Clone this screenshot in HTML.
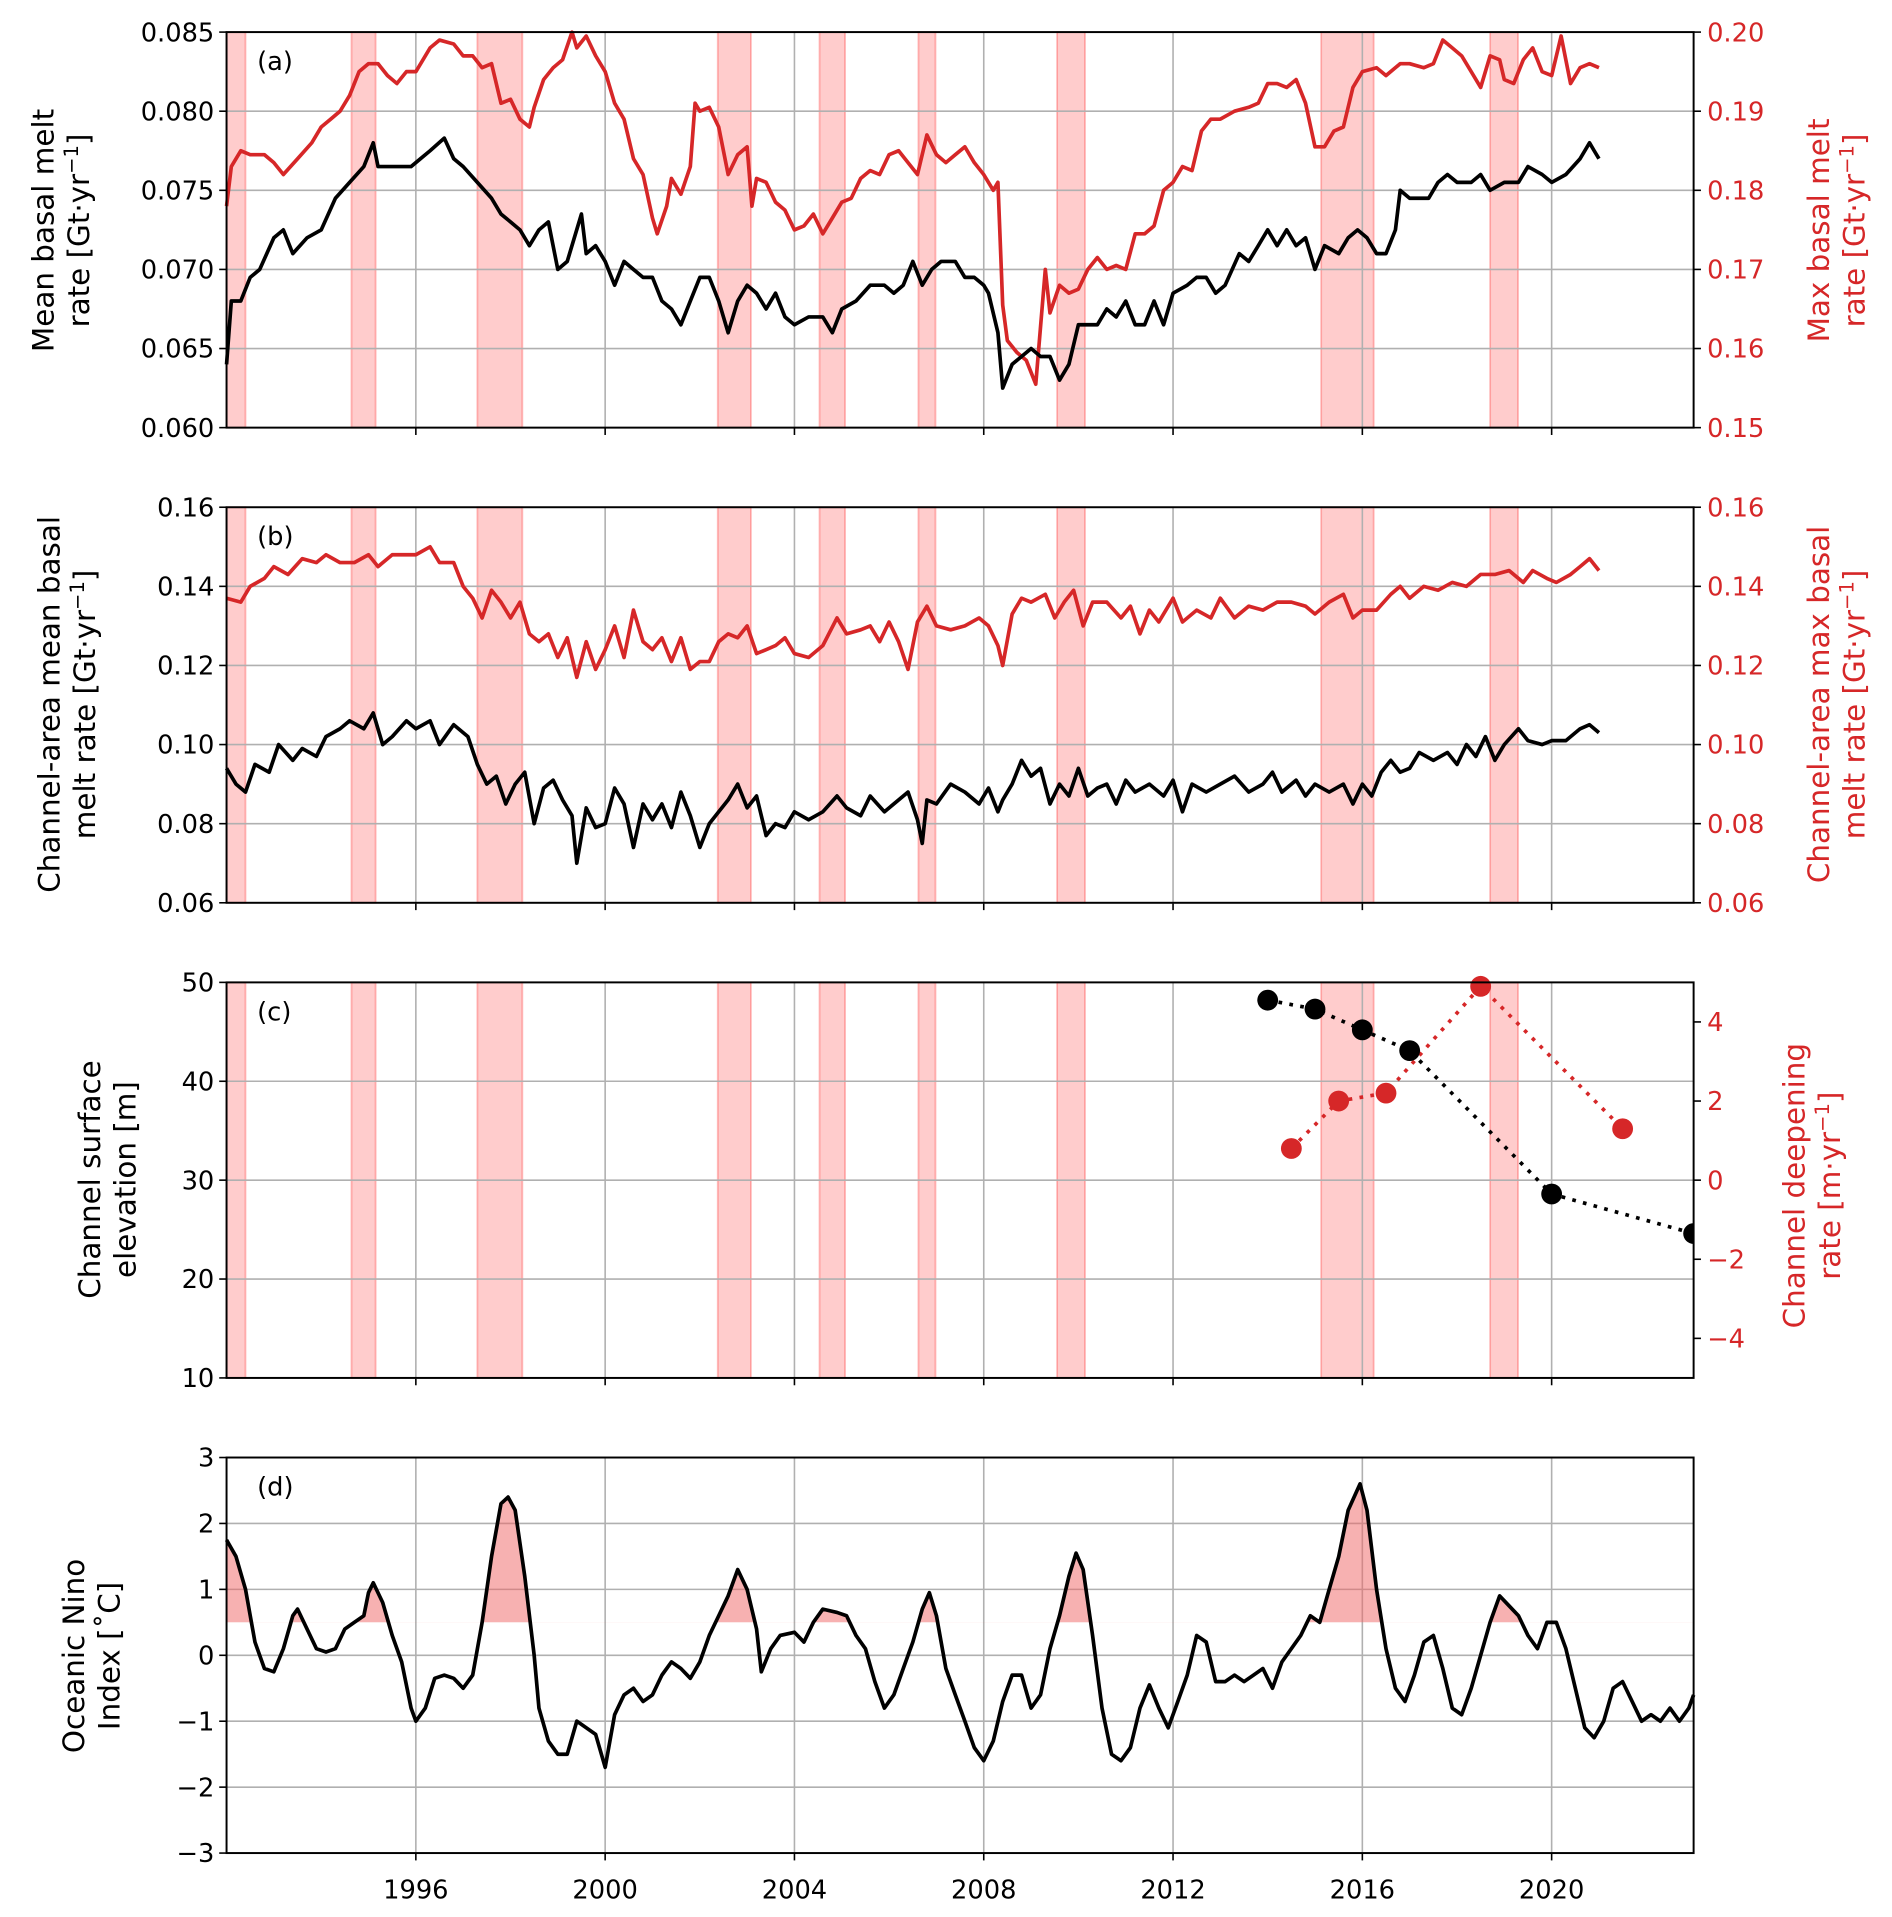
<!DOCTYPE html>
<html><head><meta charset="utf-8"><style>
html,body{margin:0;padding:0;background:#fff;}
svg{display:block;font-family:"DejaVu Sans","Liberation Sans",sans-serif;}
</style></head><body>
<svg id="fig" xmlns="http://www.w3.org/2000/svg" width="1892" height="1917" viewBox="0 0 1545 1565"></svg>
<script>
// ---- data ----
const ensoStart=[1992.0,1994.64,1997.3,2002.38,2004.53,2006.62,2009.55,2015.13,2018.7];
const ensoEnd=[1992.4,1995.15,1998.25,2003.08,2005.07,2006.98,2010.14,2016.24,2019.29];

const aMeanYears=[1992.0,1992.1,1992.3,1992.5,1992.7,1993.0,1993.2,1993.4,1993.7,1994.0,1994.3,1994.6,1994.9,1995.1,1995.2,1995.4,1995.6,1995.9,1996.1,1996.3,1996.6,1996.8,1997.0,1997.3,1997.6,1997.8,1998.0,1998.2,1998.4,1998.6,1998.8,1999.0,1999.2,1999.5,1999.6,1999.8,2000.0,2000.2,2000.4,2000.6,2000.8,2001.0,2001.2,2001.4,2001.6,2001.8,2002.0,2002.2,2002.4,2002.6,2002.8,2003.0,2003.2,2003.4,2003.6,2003.8,2004.0,2004.3,2004.6,2004.8,2005.0,2005.3,2005.6,2005.9,2006.1,2006.3,2006.5,2006.7,2006.9,2007.1,2007.4,2007.6,2007.8,2008.0,2008.1,2008.3,2008.4,2008.6,2008.8,2009.0,2009.2,2009.4,2009.6,2009.8,2010.0,2010.2,2010.4,2010.6,2010.8,2011.0,2011.2,2011.4,2011.6,2011.8,2012.0,2012.3,2012.5,2012.7,2012.9,2013.1,2013.4,2013.6,2013.8,2014.0,2014.2,2014.4,2014.6,2014.8,2015.0,2015.2,2015.5,2015.7,2015.9,2016.1,2016.3,2016.5,2016.7,2016.8,2017.0,2017.2,2017.4,2017.6,2017.8,2018.0,2018.3,2018.5,2018.7,2019.0,2019.3,2019.5,2019.8,2020.0,2020.3,2020.6,2020.8,2020.9,2021.0];
const aMeanVals=[0.064,0.068,0.068,0.0695,0.070,0.072,0.0725,0.071,0.072,0.0725,0.0745,0.0755,0.0765,0.078,0.0765,0.0765,0.0765,0.0765,0.077,0.0775,0.0783,0.077,0.0765,0.0755,0.0745,0.0735,0.073,0.0725,0.0715,0.0725,0.073,0.070,0.0705,0.0735,0.071,0.0715,0.0705,0.069,0.0705,0.070,0.0695,0.0695,0.068,0.0675,0.0665,0.068,0.0695,0.0695,0.068,0.066,0.068,0.069,0.0685,0.0675,0.0685,0.067,0.0665,0.067,0.067,0.066,0.0675,0.068,0.069,0.069,0.0685,0.069,0.0705,0.069,0.070,0.0705,0.0705,0.0695,0.0695,0.069,0.0685,0.066,0.0625,0.064,0.0645,0.065,0.0645,0.0645,0.063,0.064,0.0665,0.0665,0.0665,0.0675,0.067,0.068,0.0665,0.0665,0.068,0.0665,0.0685,0.069,0.0695,0.0695,0.0685,0.069,0.071,0.0705,0.0715,0.0725,0.0715,0.0725,0.0715,0.072,0.070,0.0715,0.071,0.072,0.0725,0.072,0.071,0.071,0.0725,0.075,0.0745,0.0745,0.0745,0.0755,0.076,0.0755,0.0755,0.076,0.075,0.0755,0.0755,0.0765,0.076,0.0755,0.076,0.077,0.078,0.0775,0.077];

const aMaxYears=[1992.0,1992.1,1992.3,1992.5,1992.8,1993.0,1993.2,1993.5,1993.8,1994.0,1994.2,1994.4,1994.6,1994.8,1995.0,1995.2,1995.4,1995.6,1995.8,1996.0,1996.3,1996.5,1996.8,1997.0,1997.2,1997.4,1997.6,1997.8,1998.0,1998.2,1998.4,1998.5,1998.7,1998.9,1999.1,1999.3,1999.4,1999.6,1999.8,2000.0,2000.2,2000.4,2000.6,2000.8,2001.0,2001.1,2001.3,2001.4,2001.6,2001.8,2001.9,2002.0,2002.2,2002.4,2002.6,2002.8,2003.0,2003.1,2003.2,2003.4,2003.6,2003.8,2004.0,2004.2,2004.4,2004.6,2004.8,2005.0,2005.2,2005.4,2005.6,2005.8,2006.0,2006.2,2006.4,2006.6,2006.8,2007.0,2007.2,2007.4,2007.6,2007.8,2008.0,2008.2,2008.3,2008.4,2008.5,2008.7,2008.9,2009.1,2009.3,2009.4,2009.6,2009.8,2010.0,2010.2,2010.4,2010.6,2010.8,2011.0,2011.2,2011.4,2011.6,2011.8,2012.0,2012.2,2012.4,2012.6,2012.8,2013.0,2013.3,2013.6,2013.8,2014.0,2014.2,2014.4,2014.6,2014.8,2015.0,2015.2,2015.4,2015.6,2015.8,2016.0,2016.3,2016.5,2016.8,2017.0,2017.3,2017.5,2017.7,2017.9,2018.1,2018.3,2018.5,2018.7,2018.9,2019.0,2019.2,2019.4,2019.6,2019.8,2020.0,2020.2,2020.4,2020.6,2020.8,2021.0];
const aMaxVals=[0.178,0.183,0.185,0.1845,0.1845,0.1835,0.182,0.184,0.186,0.188,0.189,0.190,0.192,0.195,0.196,0.196,0.1945,0.1935,0.195,0.195,0.198,0.199,0.1985,0.197,0.197,0.1955,0.196,0.191,0.1915,0.189,0.188,0.1905,0.194,0.1955,0.1965,0.200,0.198,0.1995,0.197,0.195,0.191,0.189,0.184,0.182,0.1765,0.1745,0.178,0.1815,0.1795,0.183,0.191,0.190,0.1905,0.188,0.182,0.1845,0.1855,0.178,0.1815,0.181,0.1785,0.1775,0.175,0.1755,0.177,0.1745,0.1765,0.1785,0.179,0.1815,0.1825,0.182,0.1845,0.185,0.1835,0.182,0.187,0.1845,0.1835,0.1845,0.1855,0.1835,0.182,0.180,0.181,0.1655,0.161,0.1595,0.1585,0.1555,0.170,0.1645,0.168,0.167,0.1675,0.170,0.1715,0.170,0.1705,0.170,0.1745,0.1745,0.1755,0.180,0.181,0.183,0.1825,0.1875,0.189,0.189,0.190,0.1905,0.191,0.1935,0.1935,0.193,0.194,0.191,0.1855,0.1855,0.1875,0.188,0.193,0.195,0.1955,0.1945,0.196,0.196,0.1955,0.196,0.199,0.198,0.197,0.195,0.193,0.197,0.1965,0.194,0.1935,0.1965,0.198,0.195,0.1945,0.1995,0.1935,0.1955,0.196,0.1955];

const bMeanYears=[1992.0,1992.2,1992.4,1992.6,1992.9,1993.1,1993.4,1993.6,1993.9,1994.1,1994.4,1994.6,1994.9,1995.1,1995.3,1995.5,1995.8,1996.0,1996.3,1996.5,1996.8,1997.1,1997.3,1997.5,1997.7,1997.9,1998.1,1998.3,1998.5,1998.7,1998.9,1999.1,1999.3,1999.4,1999.6,1999.8,2000.0,2000.2,2000.4,2000.6,2000.8,2001.0,2001.2,2001.4,2001.6,2001.8,2002.0,2002.2,2002.4,2002.6,2002.8,2003.0,2003.2,2003.4,2003.6,2003.8,2004.0,2004.3,2004.6,2004.9,2005.1,2005.4,2005.6,2005.9,2006.2,2006.4,2006.6,2006.7,2006.8,2007.0,2007.3,2007.6,2007.9,2008.1,2008.3,2008.4,2008.6,2008.8,2009.0,2009.2,2009.4,2009.6,2009.8,2010.0,2010.2,2010.4,2010.6,2010.8,2011.0,2011.2,2011.5,2011.8,2012.0,2012.2,2012.4,2012.7,2013.0,2013.3,2013.6,2013.9,2014.1,2014.3,2014.6,2014.8,2015.0,2015.3,2015.6,2015.8,2016.0,2016.2,2016.4,2016.6,2016.8,2017.0,2017.2,2017.5,2017.8,2018.0,2018.2,2018.4,2018.6,2018.8,2019.0,2019.3,2019.5,2019.8,2020.0,2020.3,2020.6,2020.8,2021.0];
const bMeanVals=[0.094,0.090,0.088,0.095,0.093,0.100,0.096,0.099,0.097,0.102,0.104,0.106,0.104,0.108,0.100,0.102,0.106,0.104,0.106,0.100,0.105,0.102,0.095,0.090,0.092,0.085,0.090,0.093,0.080,0.089,0.091,0.086,0.082,0.070,0.084,0.079,0.080,0.089,0.085,0.074,0.085,0.081,0.085,0.079,0.088,0.082,0.074,0.080,0.083,0.086,0.090,0.084,0.087,0.077,0.080,0.079,0.083,0.081,0.083,0.087,0.084,0.082,0.087,0.083,0.086,0.088,0.081,0.075,0.086,0.085,0.090,0.088,0.085,0.089,0.083,0.086,0.090,0.096,0.092,0.094,0.085,0.090,0.087,0.094,0.087,0.089,0.090,0.085,0.091,0.088,0.090,0.087,0.091,0.083,0.090,0.088,0.090,0.092,0.088,0.090,0.093,0.088,0.091,0.087,0.090,0.088,0.090,0.085,0.090,0.087,0.093,0.096,0.093,0.094,0.098,0.096,0.098,0.095,0.100,0.097,0.102,0.096,0.100,0.104,0.101,0.100,0.101,0.101,0.104,0.105,0.103];

const bMaxYears=[1992.0,1992.3,1992.5,1992.8,1993.0,1993.3,1993.6,1993.9,1994.1,1994.4,1994.7,1995.0,1995.2,1995.5,1995.8,1996.0,1996.3,1996.5,1996.8,1997.0,1997.2,1997.4,1997.6,1997.8,1998.0,1998.2,1998.4,1998.6,1998.8,1999.0,1999.2,1999.4,1999.6,1999.8,2000.0,2000.2,2000.4,2000.6,2000.8,2001.0,2001.2,2001.4,2001.6,2001.8,2002.0,2002.2,2002.4,2002.6,2002.8,2003.0,2003.2,2003.4,2003.6,2003.8,2004.0,2004.3,2004.6,2004.9,2005.1,2005.4,2005.6,2005.8,2006.0,2006.2,2006.4,2006.6,2006.8,2007.0,2007.3,2007.6,2007.9,2008.1,2008.3,2008.4,2008.6,2008.8,2009.0,2009.3,2009.5,2009.7,2009.9,2010.1,2010.3,2010.6,2010.9,2011.1,2011.3,2011.5,2011.7,2012.0,2012.2,2012.5,2012.8,2013.0,2013.3,2013.6,2013.9,2014.2,2014.5,2014.8,2015.0,2015.3,2015.6,2015.8,2016.0,2016.3,2016.6,2016.8,2017.0,2017.3,2017.6,2017.9,2018.2,2018.5,2018.8,2019.1,2019.4,2019.6,2019.9,2020.1,2020.4,2020.6,2020.8,2021.0];
const bMaxVals=[0.137,0.136,0.140,0.142,0.145,0.143,0.147,0.146,0.148,0.146,0.146,0.148,0.145,0.148,0.148,0.148,0.150,0.146,0.146,0.140,0.137,0.132,0.139,0.136,0.132,0.136,0.128,0.126,0.128,0.122,0.127,0.117,0.126,0.119,0.124,0.130,0.122,0.134,0.126,0.124,0.127,0.121,0.127,0.119,0.121,0.121,0.126,0.128,0.127,0.130,0.123,0.124,0.125,0.127,0.123,0.122,0.125,0.132,0.128,0.129,0.130,0.126,0.131,0.126,0.119,0.131,0.135,0.130,0.129,0.130,0.132,0.130,0.125,0.120,0.133,0.137,0.136,0.138,0.132,0.136,0.139,0.130,0.136,0.136,0.132,0.135,0.128,0.134,0.131,0.137,0.131,0.134,0.132,0.137,0.132,0.135,0.134,0.136,0.136,0.135,0.133,0.136,0.138,0.132,0.134,0.134,0.138,0.140,0.137,0.140,0.139,0.141,0.140,0.143,0.143,0.144,0.141,0.144,0.142,0.141,0.143,0.145,0.147,0.144];

const cElevYears=[2014.0,2015.0,2016.0,2017.0,2020.0,2023.0];
const cElevVals=[48.2,47.3,45.2,43.1,28.6,24.6];
const cRateYears=[2014.5,2015.5,2016.5,2018.5,2021.5];
const cRateVals=[0.8,2.0,2.2,4.9,1.3];

const oniYears=[1992.0,1992.2,1992.4,1992.6,1992.8,1993.0,1993.2,1993.4,1993.5,1993.7,1993.9,1994.1,1994.3,1994.5,1994.7,1994.9,1995.0,1995.1,1995.3,1995.5,1995.7,1995.9,1996.0,1996.2,1996.4,1996.6,1996.8,1997.0,1997.2,1997.4,1997.6,1997.8,1997.95,1998.1,1998.3,1998.5,1998.6,1998.8,1999.0,1999.2,1999.4,1999.6,1999.8,2000.0,2000.2,2000.4,2000.6,2000.8,2001.0,2001.2,2001.4,2001.6,2001.8,2002.0,2002.2,2002.4,2002.6,2002.8,2003.0,2003.2,2003.3,2003.5,2003.7,2004.0,2004.2,2004.4,2004.6,2004.9,2005.1,2005.3,2005.5,2005.7,2005.9,2006.1,2006.3,2006.5,2006.7,2006.85,2007.0,2007.2,2007.4,2007.6,2007.8,2008.0,2008.2,2008.4,2008.6,2008.8,2009.0,2009.2,2009.4,2009.6,2009.8,2009.95,2010.1,2010.3,2010.5,2010.7,2010.9,2011.1,2011.3,2011.5,2011.7,2011.9,2012.1,2012.3,2012.5,2012.7,2012.9,2013.1,2013.3,2013.5,2013.7,2013.9,2014.1,2014.3,2014.5,2014.7,2014.9,2015.1,2015.3,2015.5,2015.7,2015.95,2016.1,2016.3,2016.5,2016.7,2016.9,2017.1,2017.3,2017.5,2017.7,2017.9,2018.1,2018.3,2018.5,2018.7,2018.9,2019.1,2019.3,2019.5,2019.7,2019.9,2020.1,2020.3,2020.5,2020.7,2020.9,2021.1,2021.3,2021.5,2021.7,2021.9,2022.1,2022.3,2022.5,2022.7,2022.9,2023.0];
const oniVals=[1.75,1.5,1.0,0.2,-0.2,-0.25,0.1,0.6,0.7,0.4,0.1,0.05,0.1,0.4,0.5,0.6,0.95,1.1,0.8,0.3,-0.1,-0.8,-1.0,-0.8,-0.35,-0.3,-0.35,-0.5,-0.3,0.5,1.5,2.3,2.4,2.2,1.2,0.0,-0.8,-1.3,-1.5,-1.5,-1.0,-1.1,-1.2,-1.7,-0.9,-0.6,-0.5,-0.7,-0.6,-0.3,-0.1,-0.2,-0.35,-0.1,0.3,0.6,0.9,1.3,1.0,0.4,-0.25,0.1,0.3,0.35,0.2,0.5,0.7,0.65,0.6,0.3,0.1,-0.4,-0.8,-0.6,-0.2,0.2,0.7,0.95,0.6,-0.2,-0.6,-1.0,-1.4,-1.6,-1.3,-0.7,-0.3,-0.3,-0.8,-0.6,0.1,0.6,1.2,1.55,1.3,0.3,-0.8,-1.5,-1.6,-1.4,-0.8,-0.45,-0.8,-1.1,-0.7,-0.3,0.3,0.2,-0.4,-0.4,-0.3,-0.4,-0.3,-0.2,-0.5,-0.1,0.1,0.3,0.6,0.5,1.0,1.5,2.2,2.6,2.2,1.0,0.1,-0.5,-0.7,-0.3,0.2,0.3,-0.2,-0.8,-0.9,-0.5,0.0,0.5,0.9,0.75,0.6,0.3,0.1,0.5,0.5,0.1,-0.5,-1.1,-1.25,-1.0,-0.5,-0.4,-0.7,-1.0,-0.9,-1.0,-0.8,-1.0,-0.8,-0.6];

const aLeftTicks=[0.060,0.065,0.070,0.075,0.080,0.085];
const aRightTicks=[0.15,0.16,0.17,0.18,0.19,0.20];
const bTicks=[0.06,0.08,0.10,0.12,0.14,0.16];
const cLeftTicks=[10,20,30,40,50];
const cRightTicks=[-4,-2,0,2,4];
const dTicks=[-3,-2,-1,0,1,2,3];
const xTicks=[1996,2000,2004,2008,2012,2016,2020];

// ---- drawing ----
const NS='http://www.w3.org/2000/svg';
const svg=document.getElementById('fig');
const X0=185,X1=1383,Y0=1992,Y1=2023;
const RED='#d62728';
const LW=3;
function xs(y){return X0+(y-Y0)/(Y1-Y0)*(X1-X0);}
function mk(tag,attrs,parent){const e=document.createElementNS(NS,tag);for(const k in attrs)e.setAttribute(k,attrs[k]);(parent||svg).appendChild(e);return e;}
function lin(d0,d1,top,bot){return v=>bot-(v-d0)/(d1-d0)*(bot-top);}
function path(xsArr,ysArr,yf){return xsArr.map((t,i)=>(i?'L':'M')+xs(t).toFixed(1)+','+yf(ysArr[i]).toFixed(1)).join('');}
function fmt(v,d){return v.toFixed(d).replace('-','\u2212');}

const panels=[
 {id:'a',top:26,bot:349,l:[0.060,0.085],r:[0.15,0.20],lt:aLeftTicks,rt:aRightTicks,ld:3,rd:2,shade:true},
 {id:'b',top:414,bot:737,l:[0.06,0.16],r:[0.06,0.16],lt:bTicks,rt:bTicks,ld:2,rd:2,shade:true},
 {id:'c',top:802,bot:1125,l:[10,50],r:[-5,5],lt:cLeftTicks,rt:cRightTicks,ld:0,rd:0,shade:true},
 {id:'d',top:1190,bot:1513,l:[-3,3],r:null,lt:dTicks,rt:null,ld:0,rd:0,shade:false}
];

panels.forEach(p=>{
 const g=mk('g',{});
 
 
 const yl=lin(p.l[0],p.l[1],p.top,p.bot);
 const yr=p.r?lin(p.r[0],p.r[1],p.top,p.bot):null;
 if(p.shade){
  ensoStart.forEach((s,i)=>{
   const r=mk('rect',{x:xs(s),y:p.top,width:xs(ensoEnd[i])-xs(s),height:p.bot-p.top,fill:'rgba(255,0,0,0.2)',stroke:'rgba(255,0,0,0.25)','stroke-width':1.5},g);
   
   
  });
 }
 xTicks.forEach(t=>{mk('line',{x1:xs(t),x2:xs(t),y1:p.top,y2:p.bot,stroke:'#b0b0b0','stroke-width':1.3},g);
  mk('line',{x1:xs(t),x2:xs(t),y1:p.bot,y2:p.bot+6,stroke:'#000','stroke-width':1.3},g);});
 p.lt.forEach(t=>{mk('line',{x1:X0,x2:X1,y1:yl(t),y2:yl(t),stroke:'#b0b0b0','stroke-width':1.3},g);
  mk('line',{x1:X0-6,x2:X0,y1:yl(t),y2:yl(t),stroke:'#000','stroke-width':1.3},g);
  const tx=mk('text',{x:X0-10,y:yl(t)+7.5,'text-anchor':'end','font-size':21,fill:'#000'},g);tx.textContent=fmt(t,p.ld);
  });
 if(p.rt){p.rt.forEach(t=>{mk('line',{x1:X1,x2:X1+6,y1:yr(t),y2:yr(t),stroke:'#000','stroke-width':1.3},g);
  const tx=mk('text',{x:X1+11,y:yr(t)+7.5,'font-size':21,fill:RED},g);tx.textContent=fmt(t,p.rd);
  });}
 if(p.id==='a'){
  const r=mk('path',{d:path(aMaxYears,aMaxVals,yr),fill:'none',stroke:RED,'stroke-width':LW,'stroke-linejoin':'round'},g);
  
  const k=mk('path',{d:path(aMeanYears,aMeanVals,yl),fill:'none',stroke:'#000','stroke-width':LW,'stroke-linejoin':'round'},g);
  
 }
 if(p.id==='b'){
  const r=mk('path',{d:path(bMaxYears,bMaxVals,yr),fill:'none',stroke:RED,'stroke-width':LW,'stroke-linejoin':'round'},g);
  
  const k=mk('path',{d:path(bMeanYears,bMeanVals,yl),fill:'none',stroke:'#000','stroke-width':LW,'stroke-linejoin':'round'},g);
  
 }
 if(p.id==='c'){
  mk('clipPath',{id:'clipc'},g);
  const cp=document.getElementById('clipc');mk('rect',{x:X0,y:p.top-12,width:X1-X0,height:p.bot-p.top+24},cp);
  const gc=mk('g',{'clip-path':'url(#clipc)'},g);
  const l1=mk('path',{d:path(cElevYears,cElevVals,yl),fill:'none',stroke:'#000','stroke-width':3,'stroke-dasharray':'3,6'},gc);
  
  const l2=mk('path',{d:path(cRateYears,cRateVals,yr),fill:'none',stroke:RED,'stroke-width':3,'stroke-dasharray':'3,6'},gc);
  
  cElevYears.forEach((t,i)=>{const c=mk('circle',{cx:xs(t),cy:yl(cElevVals[i]),r:8.5,fill:'#000'},gc);
   });
  cRateYears.forEach((t,i)=>{const c=mk('circle',{cx:xs(t),cy:yr(cRateVals[i]),r:8.5,fill:RED},gc);
   });
 }
 if(p.id==='d'){
  mk('clipPath',{id:'clipd'},g);
  const cp=document.getElementById('clipd');mk('rect',{x:X0,y:p.top,width:X1-X0,height:yl(0.5)-p.top},cp);
  const area=path(oniYears,oniVals,yl)+'L'+xs(oniYears[oniYears.length-1])+','+yl(0.5)+'L'+xs(oniYears[0])+','+yl(0.5)+'Z';
  const f=mk('path',{d:area,fill:'rgba(240,100,100,0.5)',stroke:'none','clip-path':'url(#clipd)'},g);
  
  const k=mk('path',{d:path(oniYears,oniVals,yl),fill:'none',stroke:'#000','stroke-width':LW,'stroke-linejoin':'round'},g);
  
  xTicks.forEach(t=>{const tx=mk('text',{x:xs(t),y:p.bot+37,'text-anchor':'middle','font-size':21},g);tx.textContent=t;
   });
 }
 const fr=mk('rect',{x:X0,y:p.top,width:X1-X0,height:p.bot-p.top,fill:'none',stroke:'#000','stroke-width':1.6},g);
 
 const lb=mk('text',{x:210,y:p.top+31,'font-size':21},g);lb.textContent='('+p.id+')';
 
});

function vlabel(cx,cy,lines,color,name){
 const g=mk('g',{transform:'translate('+cx+','+cy+') rotate(-90)'});
 
 lines.forEach((ln,i)=>{const t=mk('text',{x:0,y:(i-(lines.length-1)/2)*29+8,'text-anchor':'middle','font-size':24,fill:color},g);t.innerHTML=ln;});
}
const sup='<tspan dy="-9" font-size="16">\u22121</tspan><tspan dy="9">]</tspan>';
vlabel(50,188,['Mean basal melt','rate [Gt\u00b7yr'+sup],'#000','y-axis-title-a');
vlabel(1500,188,['Max basal melt','rate [Gt\u00b7yr'+sup],RED,'right-axis-title-a');
vlabel(55,575,['Channel-area mean basal','melt rate [Gt\u00b7yr'+sup],'#000','y-axis-title-b');
vlabel(1500,575,['Channel-area max basal','melt rate [Gt\u00b7yr'+sup],RED,'right-axis-title-b');
vlabel(88,963,['Channel surface','elevation [m]'],'#000','y-axis-title-c');
vlabel(1480,968,['Channel deepening','rate [m\u00b7yr'+sup],RED,'right-axis-title-c');
vlabel(75,1352,['Oceanic Nino','Index [\u02daC]'],'#000','y-axis-title-d');
</script>
</body></html>
